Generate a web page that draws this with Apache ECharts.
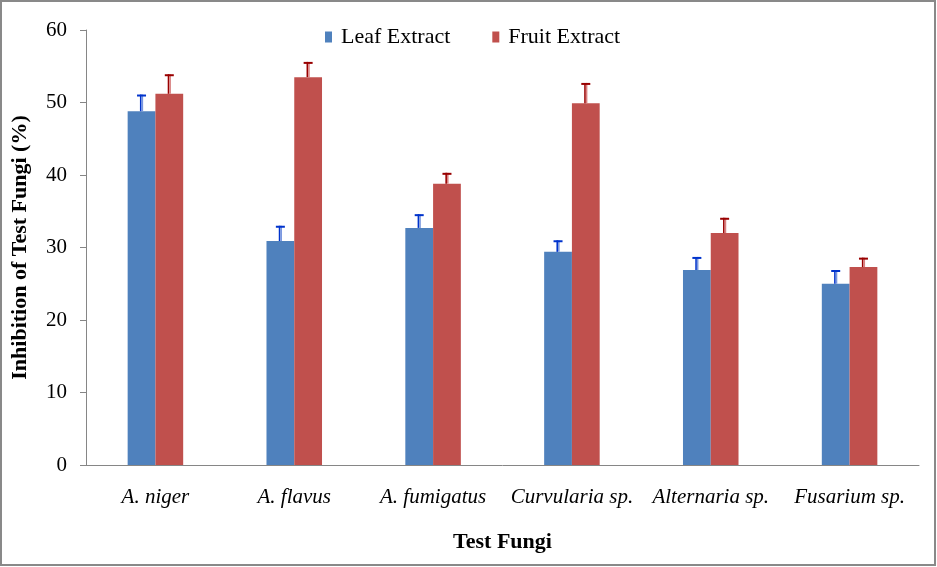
<!DOCTYPE html>
<html>
<head>
<meta charset="utf-8">
<script src="https://cdn.jsdelivr.net/npm/echarts@6/dist/echarts.min.js"></script>
<style>html,body{margin:0;padding:0;background:#fff;}#c{width:937px;height:567px;}</style>
</head>
<body>
<div id="c"></div>
<script>
const categories = ['A. niger', 'A. flavus', 'A. fumigatus', 'Curvularia sp.', 'Alternaria sp.', 'Fusarium sp.'];
const leafValues = [48.8, 30.9, 32.7, 29.4, 26.9, 25.0];
const leafErrors = [2.3, 2.1, 1.9, 1.6, 1.8, 1.9];
const fruitValues = [51.2, 53.5, 38.8, 49.9, 32.0, 27.3];
const fruitErrors = [2.7, 2.1, 1.5, 2.8, 2.1, 1.3];
const yTicks = [0, 10, 20, 30, 40, 50, 60];

const FONT = '"Liberation Serif", "DejaVu Serif", serif';

function errSeries(values, errors, side, dark, light) {
  return {
    type: 'custom',
    silent: true,
    z: 5,
    data: values.map((v, i) => [i, v, errors[i]]),
    renderItem: function (params, api) {
      const idx = api.value(0), v = api.value(1), e = api.value(2);
      const band = api.size([1, 0])[0];
      const off = side * band * 0.1;
      const p0 = api.coord([idx, v]);
      const p1 = api.coord([idx, v + e]);
      const x = p0[0] + off;
      return {
        type: 'group',
        children: [
          { type: 'line', shape: { x1: x - 0.8, y1: p0[1], x2: x - 0.8, y2: p1[1] }, style: { stroke: dark, lineWidth: 1.6 } },
          { type: 'line', shape: { x1: x + 0.8, y1: p0[1], x2: x + 0.8, y2: p1[1] }, style: { stroke: light, lineWidth: 1.6 } },
          { type: 'line', shape: { x1: x - 4.5, y1: p1[1] + 1, x2: x + 4.5, y2: p1[1] + 1 }, style: { stroke: dark, lineWidth: 2 } }
        ]
      };
    }
  };
}

const chart = echarts.init(document.getElementById('c'));
chart.setOption({
  animation: false,
  backgroundColor: '#fff',
  graphic: [{
    type: 'rect', shape: { x: 1, y: 1, width: 934, height: 564 },
    style: { fill: 'none', stroke: '#898989', lineWidth: 2 }, silent: true
  }],
  legend: {
    data: ['Leaf Extract', 'Fruit Extract'],
    left: 320, top: 21,
    itemWidth: 7, itemHeight: 11, itemGap: 42,
    icon: 'rect',
    textStyle: { fontFamily: FONT, fontSize: 22, color: '#000', padding: [0, 0, 0, 4] }
  },
  grid: { left: 86, right: 18, top: 30, bottom: 102, containLabel: false },
  xAxis: {
    type: 'category',
    data: categories,
    axisLine: { lineStyle: { color: '#868686', width: 1 } },
    axisTick: { show: false },
    axisLabel: { interval: 0, hideOverlap: false, fontFamily: FONT, fontSize: 21, fontStyle: 'italic', color: '#000', margin: 22 },
    name: 'Test Fungi',
    nameLocation: 'middle',
    nameGap: 66,
    nameTextStyle: { fontFamily: FONT, fontSize: 22, fontWeight: 'bold', color: '#000' }
  },
  yAxis: {
    type: 'value',
    min: 0, max: 60, interval: 10,
    axisLine: { show: true, lineStyle: { color: '#868686', width: 1 } },
    axisTick: { show: true, length: 6, lineStyle: { color: '#868686' } },
    splitLine: { show: false },
    axisLabel: {
      fontFamily: FONT, fontSize: 21, color: '#000', margin: 19,
      formatter: function (v) { return yTicks.indexOf(v) >= 0 ? String(v) : ''; }
    },
    name: 'Inhibition of Test Fungi (%)',
    nameLocation: 'middle',
    nameGap: 55,
    nameTextStyle: { fontFamily: FONT, fontSize: 22, fontWeight: 'bold', color: '#000' }
  },
  series: [
    {
      name: 'Leaf Extract', type: 'bar', data: leafValues,
      barWidth: '20%', barGap: '0%',
      itemStyle: { color: '#4F81BD' }
    },
    {
      name: 'Fruit Extract', type: 'bar', data: fruitValues,
      barWidth: '20%', barGap: '0%',
      itemStyle: { color: '#C0504D' }
    },
    errSeries(leafValues, leafErrors, -1, '#0033CC', '#7896DE'),
    errSeries(fruitValues, fruitErrors, 1, '#990000', '#D98080')
  ]
});
</script>
</body>
</html>
